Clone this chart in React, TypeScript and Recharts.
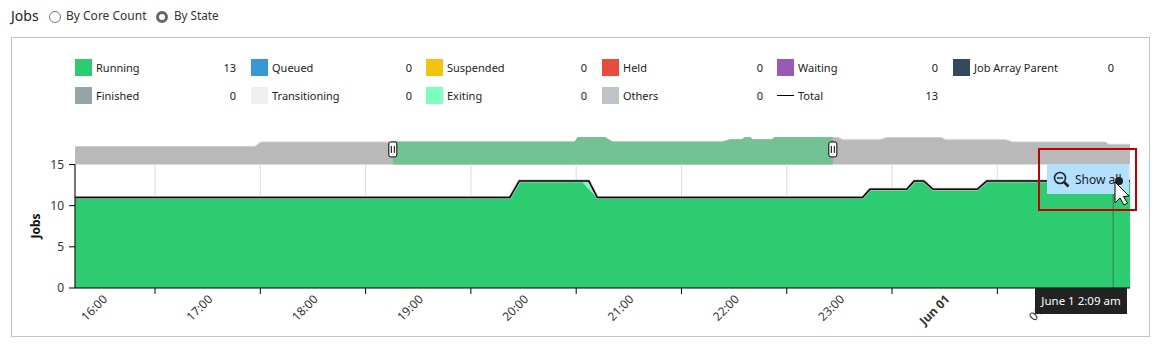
import React from 'react';
import {
    ComposedChart, AreaChart, Area, Line, XAxis, YAxis, CartesianGrid, ReferenceLine, ReferenceDot,
} from 'recharts';

const FONT = '"Noto Sans", "Open Sans", sans-serif';

// Legend
const legendNames = ['Running', 'Queued', 'Suspended', 'Held', 'Waiting', 'Job Array Parent', 'Finished', 'Transitioning', 'Exiting', 'Others', 'Total'];
const legendColors = ['#2ecc71', '#3498db', '#f1c40f', '#e74c3c', '#9b59b6', '#34495e', '#95a5a6', '#ecf0f1', '#7fffbf', '#bdc3c7', '#000000'];
const legendValues = [13, 0, 0, 0, 0, 0, 0, 0, 0, 0, 13];
const legendColumns = [75, 251, 426, 602, 777, 953];

// Main chart, x in hours on the labelled axis
const hours = [15.24, 19.37, 19.46, 20.05, 20.12, 20.2, 22.72, 22.79, 23.14, 23.21, 23.3, 23.39, 23.81, 23.9, 25.26];
const running = [11, 11, 13, 13, 12.05, 11, 11, 12, 12, 13, 13, 12, 12, 13, 13];
const exiting = [0, 0, 0, 0, 0.95, 0, 0, 0, 0, 0, 0, 0, 0, 0, 0];
const others = [0, 0, 0, 0, 0, 0, 0, 0, 0, 0, 0, 0, 0, 0, 0];
const total = [11, 11, 13, 13, 13, 11, 11, 12, 12, 13, 13, 12, 12, 13, 13];

const xTicks = [16, 17, 18, 19, 20, 21, 22, 23, 24, 25];
const xLabels = ['16:00', '17:00', '18:00', '19:00', '20:00', '21:00', '22:00', '23:00', 'Jun 01', '01:00'];
const yTicks = [0, 5, 10, 15];

// Navigator strip, x in hours from its left edge
const navHours = [0, 4.09, 4.23, 11.37, 11.44, 12.06, 12.22, 14.74, 14.9, 15.17, 15.24, 15.35, 15.42, 15.85, 15.92, 17.36, 17.47, 18.31, 18.47, 19.7, 19.81, 21.18, 21.32, 23.45, 23.5, 24];
const navTotal = [8, 8, 10, 10, 12, 12, 10, 10, 11, 11, 12, 12, 11, 11, 12, 12, 11, 11, 12, 12, 11, 11, 10, 10, 9, 9];
const selHours = [7.23, 11.37, 11.44, 12.06, 12.22, 14.74, 14.9, 15.17, 15.24, 15.35, 15.42, 15.85, 15.92, 17.24];
const selTotal = [10, 10, 12, 12, 10, 10, 11, 11, 12, 12, 11, 11, 12, 12];

const rows = hours.map((h, i) => ({ h, running: running[i], exiting: exiting[i], others: others[i], total: total[i] }));
const navRows = navHours.map((h, i) => ({ h, v: navTotal[i] }));
const selRows = selHours.map((h, i) => ({ h, v: selTotal[i] }));

function TimeTick({ x, y, payload }: any) {
    const i = xTicks.indexOf(payload.value);
    const label = xLabels[i];
    return (
        <text
            transform={`translate(${x - 47}, ${y + 4}) rotate(-45)`}
            textAnchor="end"
            fontSize={12}
            fontFamily={FONT}
            fontWeight={label === 'Jun 01' ? 700 : 400}
            fill="#333"
        >
            {label}
        </text>
    );
}

function JobsLabel() {
    return (
        <text transform="translate(40, 226) rotate(-90)" textAnchor="middle" fontSize={12} fontWeight={700} fontFamily={FONT} fill="#111">
            Jobs
        </text>
    );
}

function NavHandle({ cx, cy }: any) {
    return (
        <g>
            <rect x={cx - 4} y={cy - 7.5} width={8} height={15} rx={2} fill="#fff" stroke="#000" strokeWidth={1} />
            <line x1={cx - 1.5} x2={cx - 1.5} y1={cy - 3.5} y2={cy + 3.5} stroke="#000" />
            <line x1={cx + 1.5} x2={cx + 1.5} y1={cy - 3.5} y2={cy + 3.5} stroke="#000" />
        </g>
    );
}

function Radio({ left, checked }: { left: number; checked?: boolean }) {
    return (
        <span style={{
            position: 'absolute', left, top: 11, width: 12, height: 12, borderRadius: '50%', boxSizing: 'border-box',
            background: '#fff', border: checked ? '3px solid #666' : '1px solid #777',
        }} />
    );
}

function Legend() {
    return (
        <>
            {legendNames.map((name, i) => {
                const left = legendColumns[i % 6];
                const top = i < 6 ? 59 : 87;
                return (
                    <div key={name} style={{ position: 'absolute', left, top, width: 161, height: 17, fontSize: 11, lineHeight: '18px', color: '#222' }}>
                        {name === 'Total'
                            ? <span style={{ position: 'absolute', left: 0, top: 8, width: 17, height: 1, background: '#000' }} />
                            : <span style={{ position: 'absolute', left: 0, top: 0, width: 17, height: 17, background: legendColors[i] }} />}
                        <span style={{ position: 'absolute', left: 21 }}>{name}</span>
                        <span style={{ position: 'absolute', right: 0 }}>{legendValues[i]}</span>
                    </div>
                );
            })}
        </>
    );
}

export default function App() {
    return (
        <div style={{ position: 'absolute', left: 0, top: 0, width: 1161, height: 352, background: '#fff', fontFamily: FONT, overflow: 'hidden' }}>
            <div style={{ position: 'absolute', left: 11, top: 6, fontSize: 14, color: '#222' }}>Jobs</div>
            <Radio left={49} />
            <div style={{ position: 'absolute', left: 66, top: 7, fontSize: 12, color: '#333' }}>By Core Count</div>
            <Radio left={156} checked />
            <div style={{ position: 'absolute', left: 174, top: 7, fontSize: 11.7, color: '#333' }}>By State</div>
            <div style={{ position: 'absolute', left: 11, top: 37, width: 1137, height: 298, border: '1px solid #c4c4c4' }} />

            <Legend />

            <div style={{ position: 'absolute', left: 0, top: 0 }}>
                <AreaChart width={1161} height={165} margin={{ top: 128.5, right: 31, bottom: 0.5, left: 75 }}>
                    <XAxis dataKey="h" type="number" domain={[0, 24]} hide />
                    <YAxis type="number" domain={[0, 16]} hide />
                    <Area data={navRows} dataKey="v" type="linear" fill="#b9b9b9" fillOpacity={1} stroke="#cfcfcf" isAnimationActive={false} />
                    <Area data={selRows} dataKey="v" type="linear" fill="#74c294" fillOpacity={1} stroke="#74c294" isAnimationActive={false} />
                    <ReferenceDot x={7.23} y={6.7} shape={NavHandle} ifOverflow="visible" />
                    <ReferenceDot x={17.24} y={6.7} shape={NavHandle} ifOverflow="visible" />
                </AreaChart>
            </div>

            <div style={{ position: 'absolute', left: 0, top: 0 }}>
                <ComposedChart width={1161} height={352} data={rows} margin={{ top: 164.5, right: 31, bottom: 0, left: 0 }}>
                    <CartesianGrid vertical horizontal={false} stroke="#dcdcdc" />
                    <XAxis
                        dataKey="h"
                        type="number"
                        domain={[15.24, 25.26]}
                        ticks={xTicks}
                        tick={<TimeTick />}
                        tickSize={6}
                        height={64}
                        interval={0}
                        axisLine={{ stroke: '#000' }}
                        tickLine={{ stroke: '#000' }}
                    />
                    <YAxis
                        type="number"
                        domain={[0, 15]}
                        ticks={yTicks}
                        width={75}
                        tickSize={6}
                        tickMargin={5}
                        axisLine={{ stroke: '#000' }}
                        tickLine={{ stroke: '#000' }}
                        tick={{ fontSize: 12, fontFamily: FONT, fill: '#333' }}
                        label={<JobsLabel />}
                    />
                    <Area dataKey="running" stackId="jobs" type="linear" fill="#2ecc71" fillOpacity={1} stroke="none" isAnimationActive={false} />
                    <Area dataKey="exiting" stackId="jobs" type="linear" fill="#7fffbf" fillOpacity={1} stroke="none" isAnimationActive={false} />
                    <Area dataKey="others" stackId="jobs" type="linear" fill="#bdc3c7" fillOpacity={1} stroke="#bdc3c7" strokeWidth={3} isAnimationActive={false} />
                    <Line dataKey="total" type="linear" stroke="#000" strokeWidth={1.5} dot={false} isAnimationActive={false} />
                    <ReferenceLine x={25.1} stroke="#2f7d55" />
                </ComposedChart>
            </div>

            {/* Show all button, red marker, cursor and time tooltip sit over the plot */}
            <div style={{ position: 'absolute', left: 1047, top: 164, width: 82, height: 30, background: '#b3e0ff', fontSize: 12, lineHeight: '31px', color: '#222' }}>
                <svg width={17} height={17} style={{ position: 'absolute', left: 6, top: 7 }}>
                    <circle cx={7} cy={7} r={5.5} fill="none" stroke="#222" strokeWidth={1.6} />
                    <line x1={4} x2={10} y1={7} y2={7} stroke="#222" strokeWidth={1.4} />
                    <line x1={11} x2={15.5} y1={11} y2={15.5} stroke="#222" strokeWidth={2.6} />
                </svg>
                <span style={{ position: 'absolute', left: 28, whiteSpace: 'nowrap' }}>Show all</span>
            </div>
            <div style={{ position: 'absolute', left: 1038, top: 148, width: 99, height: 63, boxSizing: 'border-box', border: '2.5px solid #c00000' }} />
            <svg width={40} height={40} style={{ position: 'absolute', left: 1105, top: 170 }}>
                <circle cx={14} cy={11} r={4} fill="#222" />
                <polygon points="10,12 10,33 15,28 19,35 22.5,33 18.5,26.5 24,26" fill="#fff" stroke="#000" strokeWidth={1} />
            </svg>
            <div style={{ position: 'absolute', left: 1035, top: 288, width: 92, height: 26, background: '#222', color: '#fff', fontSize: 11.5, lineHeight: '26px', textAlign: 'center', whiteSpace: 'nowrap' }}>
                June 1 2:09 am
            </div>
        </div>
    );
}
